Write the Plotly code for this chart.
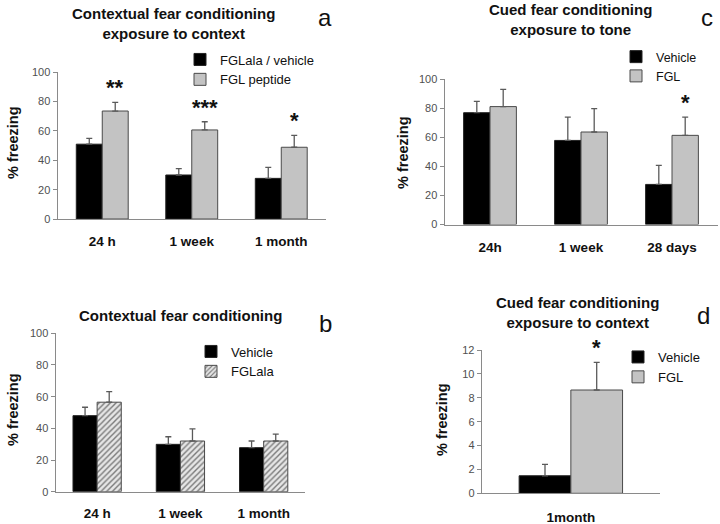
import plotly.graph_objects as go

FONT = "Arial, 'Liberation Sans', sans-serif"

# ---------------- data ----------------
a_categories = ["24 h", "1 week", "1 month"]
a_vehicle = [51.0, 30.0, 27.7]
a_vehicle_err = [3.9, 4.3, 7.5]
a_fgl = [73.6, 60.7, 48.9]
a_fgl_err = [5.9, 5.6, 8.1]
a_stars = ["**", "***", "*"]

c_categories = ["24h", "1 week", "28 days"]
c_vehicle = [77.0, 57.9, 27.6]
c_vehicle_err = [7.8, 16.1, 13.1]
c_fgl = [81.2, 63.7, 61.4]
c_fgl_err = [11.9, 16.1, 12.6]
c_stars = ["", "", "*"]

b_categories = ["24 h", "1 week", "1 month"]
b_vehicle = [48.0, 29.9, 27.8]
b_vehicle_err = [5.3, 4.8, 4.2]
b_fglala = [56.5, 32.0, 32.0]
b_fglala_err = [6.7, 7.6, 4.4]

d_categories = ["1month"]
d_vehicle = [1.47]
d_vehicle_err = [0.96]
d_fgl = [8.65]
d_fgl_err = [2.32]
d_stars = ["*"]

# ---------------- styles ----------------
BLACK = dict(color="#000000", line=dict(color="#222222", width=1))
GRAY = dict(color="#c3c3c3", line=dict(color="#4a4a4a", width=1))
HATCH = dict(color="#e6e6e6", line=dict(color="#4a4a4a", width=1),
             pattern=dict(shape="/", fgcolor="#7a7a7a", bgcolor="#e6e6e6",
                          size=4, solidity=0.35))


def bar(x, y, err, name, marker, xa, ya, legend):
    return go.Bar(
        x=x, y=y, name=name, marker=marker, xaxis=xa, yaxis=ya,
        legend=legend, showlegend=True,
        error_y=dict(type="data", array=err, arrayminus=[0] * len(err),
                     symmetric=False, color="#5a5a5a", thickness=1.3, width=3),
    )


fig = go.Figure()
fig.add_trace(bar(a_categories, a_vehicle, a_vehicle_err, "FGLala / vehicle", BLACK, "x", "y", "legend"))
fig.add_trace(bar(a_categories, a_fgl, a_fgl_err, "FGL peptide", GRAY, "x", "y", "legend"))
fig.add_trace(bar(c_categories, c_vehicle, c_vehicle_err, "Vehicle", BLACK, "x2", "y2", "legend2"))
fig.add_trace(bar(c_categories, c_fgl, c_fgl_err, "FGL", GRAY, "x2", "y2", "legend2"))
fig.add_trace(bar(b_categories, b_vehicle, b_vehicle_err, "Vehicle", BLACK, "x3", "y3", "legend3"))
fig.add_trace(bar(b_categories, b_fglala, b_fglala_err, "FGLala", HATCH, "x3", "y3", "legend3"))
fig.add_trace(bar(d_categories, d_vehicle, d_vehicle_err, "Vehicle", BLACK, "x4", "y4", "legend4"))
fig.add_trace(bar(d_categories, d_fgl, d_fgl_err, "FGL", GRAY, "x4", "y4", "legend4"))

W, H = 720, 524


def px_x(v):
    return v / W


def px_y(v):
    return 1 - v / H


def xaxis(dom, anchor, standoff):
    return dict(domain=dom, anchor=anchor, type="category", showline=True,
                linecolor="#8a8a8a", linewidth=1, ticks="", showgrid=False,
                zeroline=False, ticklabelstandoff=standoff, automargin=False,
                tickfont=dict(family=FONT, size=13.5, color="#111111", weight="bold"))


def yaxis(dom, anchor, rng, dtick):
    return dict(domain=dom, anchor=anchor, range=rng, dtick=dtick, showline=True,
                linecolor="#8a8a8a", linewidth=1, ticks="outside", ticklen=4,
                tickcolor="#8a8a8a", showgrid=False, zeroline=False, automargin=False,
                tickfont=dict(family=FONT, size=11, color="#505050"))


def legend(x, y, size):
    return dict(x=x, y=y, xanchor="left", yanchor="middle", bgcolor="rgba(0,0,0,0)",
                borderwidth=0, itemwidth=30, tracegroupgap=0, traceorder="normal",
                font=dict(family=FONT, size=size, color="#111111"))


annotations = []


def text(x, y, s, size, bold=True, angle=0):
    annotations.append(dict(xref="paper", yref="paper", x=px_x(x), y=px_y(y), text=s,
                            showarrow=False, textangle=angle, xanchor="center",
                            yanchor="middle",
                            font=dict(family=FONT, size=size, color="#111111",
                                      weight="bold" if bold else "normal")))


def stars(xref, yref, tops, errs, marks):
    for i, (t, e, m) in enumerate(zip(tops, errs, marks)):
        if m:
            annotations.append(dict(xref=xref, yref=yref, x=i + 0.145, y=t + e, text=m,
                                    showarrow=False, yanchor="bottom", yshift=0,
                                    font=dict(family=FONT, size=22, color="#111111",
                                              weight="bold")))


stars("x", "y", a_fgl, a_fgl_err, a_stars)
stars("x2", "y2", c_fgl, c_fgl_err, c_stars)
stars("x4", "y4", d_fgl, d_fgl_err, d_stars)

# titles
text(173, 24, "Contextual fear conditioning<br>exposure to context", 15)
text(570, 20, "Cued fear conditioning<br>exposure to tone", 15)
text(180, 315, "Contextual fear conditioning", 15)
text(577, 312, "Cued fear conditioning<br>exposure to context", 15)
# panel letters
text(325, 17, "a", 24, bold=False)
text(707, 17, "c", 24, bold=False)
text(325, 323, "b", 24, bold=False)
text(703, 315, "d", 24, bold=False)
# y titles
text(13, 143, "% freezing", 14.5, angle=-90)
text(403, 153, "% freezing", 14.5, angle=-90)
text(13, 410, "% freezing", 14.5, angle=-90)
text(442, 420, "% freezing", 14.5, angle=-90)

fig.update_layout(
    template="none",
    width=W, height=H, margin=dict(l=0, r=0, t=0, b=0, pad=0, autoexpand=False),
    paper_bgcolor="white", plot_bgcolor="white",
    barmode="group", bargap=0.42, bargroupgap=0,
    font=dict(family=FONT),
    xaxis=xaxis([px_x(57.5), px_x(326)], "y", 10),
    yaxis=yaxis([px_y(219), px_y(72.3)], "x", [0, 100], 20),
    xaxis2=xaxis([px_x(444.5), px_x(717.5)], "y2", 10),
    yaxis2=yaxis([px_y(224.5), px_y(79.3)], "x2", [0, 100], 20),
    xaxis3=xaxis([px_x(55.5), px_x(305.3)], "y3", 9),
    yaxis3=yaxis([px_y(491.7), px_y(333.3)], "x3", [0, 100], 20),
    xaxis4=xaxis([px_x(481.7), px_x(660)], "y4", 11),
    yaxis4=yaxis([px_y(493.3), px_y(350)], "x4", [0, 12], 2),
    legend=legend(px_x(180), px_y(69.5), 13),
    legend2=legend(px_x(616), px_y(66.5), 12.5),
    legend3=legend(px_x(191), px_y(361.5), 13),
    legend4=legend(px_x(618), px_y(367), 13),
    annotations=annotations,
)

fig.write_html("out.html", config={"displayModeBar": False},
               post_script="document.body.style.margin='0';"
                           "document.body.style.padding='0';"
                           "document.body.style.overflow='hidden';")
